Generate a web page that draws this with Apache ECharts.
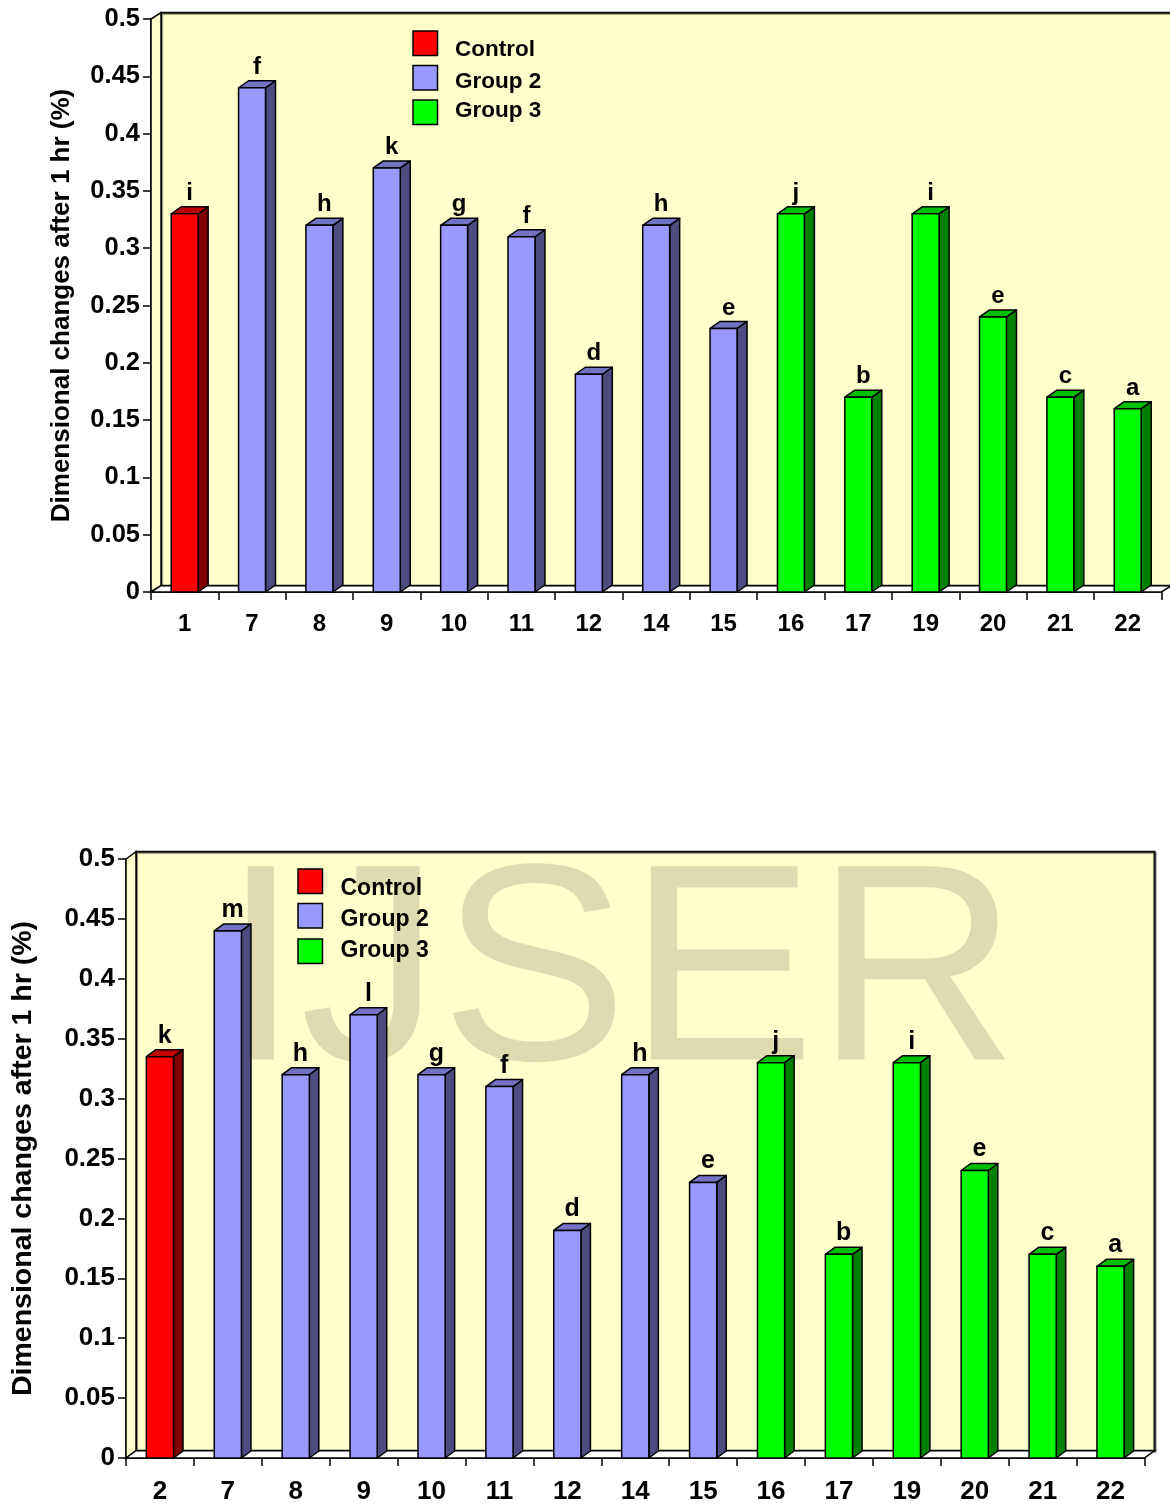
<!DOCTYPE html>
<html>
<head>
<meta charset="utf-8">
<title>Dimensional changes after 1 hr</title>
<script src="https://cdn.jsdelivr.net/npm/echarts@6/dist/echarts.min.js"></script>
<style>
  html, body { margin: 0; padding: 0; background: #fff; }
  #chart { width: 1170px; height: 1506px; }
</style>
</head>
<body>
<div id="chart"></div>
<script>
// ---- data ----
const catsTop = ['1', '7', '8', '9', '10', '11', '12', '14', '15', '16', '17', '19', '20', '21', '22'];
const valsTop = [0.33, 0.44, 0.32, 0.37, 0.32, 0.31, 0.19, 0.32, 0.23, 0.33, 0.17, 0.33, 0.24, 0.17, 0.16];
const lettersTop = ['i', 'f', 'h', 'k', 'g', 'f', 'd', 'h', 'e', 'j', 'b', 'i', 'e', 'c', 'a'];

const catsBottom = ['2', '7', '8', '9', '10', '11', '12', '14', '15', '16', '17', '19', '20', '21', '22'];
const valsBottom = [0.335, 0.44, 0.32, 0.37, 0.32, 0.31, 0.19, 0.32, 0.23, 0.33, 0.17, 0.33, 0.24, 0.17, 0.16];
const lettersBottom = ['k', 'm', 'h', 'l', 'g', 'f', 'd', 'h', 'e', 'j', 'b', 'i', 'e', 'c', 'a'];

// group of each category: 0 = Control, 1 = Group 2, 2 = Group 3
const groupOf = [0, 1, 1, 1, 1, 1, 1, 1, 1, 2, 2, 2, 2, 2, 2];
const groupNames = ['Control', 'Group 2', 'Group 3'];

const yMin = 0, yMax = 0.5, yStep = 0.05;
const axisTitle = 'Dimensional changes after 1 hr (%)';
const watermark = 'IJSER';

// ---- styling ----
const FONT = '"Liberation Sans", Arial, sans-serif';
const faceColors = [
  { front: '#ff0000', side: '#800000', top: '#c00000' },
  { front: '#9999ff', side: '#4c4c80', top: '#7373c4' },
  { front: '#00ff00', side: '#008000', top: '#00bf00' }
];
const WALL = '#ffffcc';

const panels = [
  { cats: catsTop, vals: valsTop, letters: lettersTop,
    grid: { left: 151, top: 19, width: 1010.4, height: 573 },
    dx: 10, dy: 6.3, bdx: 10, bdy: 7,
    yFont: 25.5, xFont: 24, labelFont: 24, titleFont: 26, titleGap: 76, xMargin: 20,
    key: { boxX: 413, boxTops: [31, 65.5, 100], textX: 455, textYs: [49.5, 82, 110.5], font: 22.5 } },
  { cats: catsBottom, vals: valsBottom, letters: lettersBottom,
    grid: { left: 126, top: 859, width: 1018.5, height: 599 },
    dx: 10, dy: 7.3, bdx: 9.5, bdy: 7,
    yFont: 26, xFont: 26, labelFont: 25, titleFont: 28.5, titleGap: 88, xMargin: 21,
    key: { boxX: 298, boxTops: [869, 903.5, 939], textX: 340.5, textYs: [889, 920, 950.5], font: 23 } }
];

// back wall, left wall and floor of the 3D box
function wallRenderer(p) {
  return function (params) {
    const c = params.coordSys;
    const x = c.x, y = c.y, w = c.width, h = c.height, dx = p.dx, dy = p.dy;
    const line = { stroke: '#000', lineWidth: 1.5 };
    return {
      type: 'group',
      children: [
        { type: 'rect', shape: { x: x + dx, y: y - dy, width: w, height: h },
          style: { fill: WALL, stroke: '#111', lineWidth: 2,
                   shadowColor: 'rgba(0,0,0,0.45)', shadowOffsetX: 1, shadowOffsetY: 1, shadowBlur: 1 } },
        { type: 'polygon', shape: { points: [[x, y], [x + dx, y - dy], [x + dx, y + h - dy], [x, y + h]] },
          style: Object.assign({ fill: WALL }, line) },
        { type: 'polygon', shape: { points: [[x, y + h], [x + dx, y + h - dy], [x + w + dx, y + h - dy], [x + w, y + h]] },
          style: Object.assign({ fill: '#ffffff' }, line) }
      ]
    };
  };
}

// 3D bar with a letter label above it
function barRenderer(p, g, letters) {
  const col = faceColors[g];
  return function (params, api) {
    const ci = api.value(0), v = api.value(1);
    const top = api.coord([ci, v]);
    const base = api.coord([ci, 0]);
    const bw = api.size([1, 0])[0] * 0.4;
    const x0 = top[0] - bw / 2, x1 = top[0] + bw / 2;
    const yt = top[1], yb = base[1];
    const dx = p.bdx, dy = p.bdy;
    const line = { stroke: '#000', lineWidth: 1.5, lineJoin: 'round' };
    return {
      type: 'group',
      children: [
        { type: 'polygon', shape: { points: [[x1, yt], [x1 + dx, yt - dy], [x1 + dx, yb - dy], [x1, yb]] },
          style: Object.assign({ fill: col.side }, line) },
        { type: 'polygon', shape: { points: [[x0, yt], [x0 + dx, yt - dy], [x1 + dx, yt - dy], [x1, yt]] },
          style: Object.assign({ fill: col.top }, line) },
        { type: 'rect', shape: { x: x0, y: yt, width: bw, height: yb - yt },
          style: Object.assign({ fill: col.front }, line) },
        { type: 'text', x: (x0 + x1 + dx) / 2, y: yt - dy - 1.5,
          style: { text: letters[params.dataIndex], fill: '#000',
                   font: 'bold ' + p.labelFont + 'px ' + FONT, align: 'center', verticalAlign: 'bottom' } }
      ]
    };
  };
}

const option = {
  backgroundColor: '#ffffff',
  animation: false,
  grid: [], xAxis: [], yAxis: [], series: [],
  graphic: []
};

panels.forEach(function (p, k) {
  option.grid.push(Object.assign({ containLabel: false }, p.grid));
  option.xAxis.push({
    type: 'category', gridIndex: k, data: p.cats, boundaryGap: true,
    axisLine: { lineStyle: { color: '#000', width: 1.5 } },
    axisTick: { show: true, inside: false, length: 8, interval: 0, lineStyle: { color: '#000', width: 1.5 } },
    axisLabel: { interval: 0, color: '#000', fontWeight: 'bold', fontSize: p.xFont, fontFamily: FONT, margin: p.xMargin },
    splitLine: { show: false }
  });
  option.yAxis.push({
    type: 'value', gridIndex: k, min: yMin, max: yMax, interval: yStep,
    name: axisTitle, nameLocation: 'middle', nameRotate: 90, nameGap: p.titleGap,
    nameTextStyle: { color: '#000', fontWeight: 'bold', fontSize: p.titleFont, fontFamily: FONT },
    axisLine: { show: true, lineStyle: { color: '#000', width: 1.5 } },
    axisTick: { show: true, inside: false, length: 8, lineStyle: { color: '#000', width: 1.5 } },
    axisLabel: { color: '#000', fontWeight: 'bold', fontSize: p.yFont, fontFamily: FONT, margin: 11 },
    splitLine: { show: false }
  });
  option.series.push({
    type: 'custom', name: 'wall' + k, xAxisIndex: k, yAxisIndex: k, z: 1, silent: true,
    data: [[0, 0]], renderItem: wallRenderer(p)
  });
  groupNames.forEach(function (name, g) {
    const data = [], letters = [];
    p.vals.forEach(function (v, i) {
      if (groupOf[i] === g) { data.push([i, v]); letters.push(p.letters[i]); }
    });
    option.series.push({
      type: 'custom', name: name, xAxisIndex: k, yAxisIndex: k, z: 3,
      encode: { x: 0, y: 1 },
      itemStyle: { color: faceColors[g].front, borderColor: '#000', borderWidth: 1.5 },
      data: data, renderItem: barRenderer(p, g, letters)
    });
  });
  // key: swatch + group name for each group
  groupNames.forEach(function (name, g) {
    option.graphic.push({
      type: 'rect', z: 5, silent: true,
      shape: { x: p.key.boxX, y: p.key.boxTops[g], width: 24.5, height: 24.5 },
      style: { fill: faceColors[g].front, stroke: '#000', lineWidth: 1.5 }
    });
    option.graphic.push({
      type: 'text', z: 5, silent: true, x: p.key.textX, y: p.key.textYs[g],
      style: { text: name, fill: '#000', font: 'bold ' + p.key.font + 'px ' + FONT,
               align: 'left', verticalAlign: 'middle' }
    });
  });
});

// journal watermark over the lower chart
option.graphic.push({
  type: 'text', z: 2, silent: true,
  x: 620, y: 982,
  style: { text: watermark, fill: 'rgba(148,135,111,0.3)', font: '281px ' + FONT,
           align: 'center', verticalAlign: 'middle' }
});

const chart = echarts.init(document.getElementById('chart'), null, { renderer: 'canvas' });
chart.setOption(option);
</script>
</body>
</html>
